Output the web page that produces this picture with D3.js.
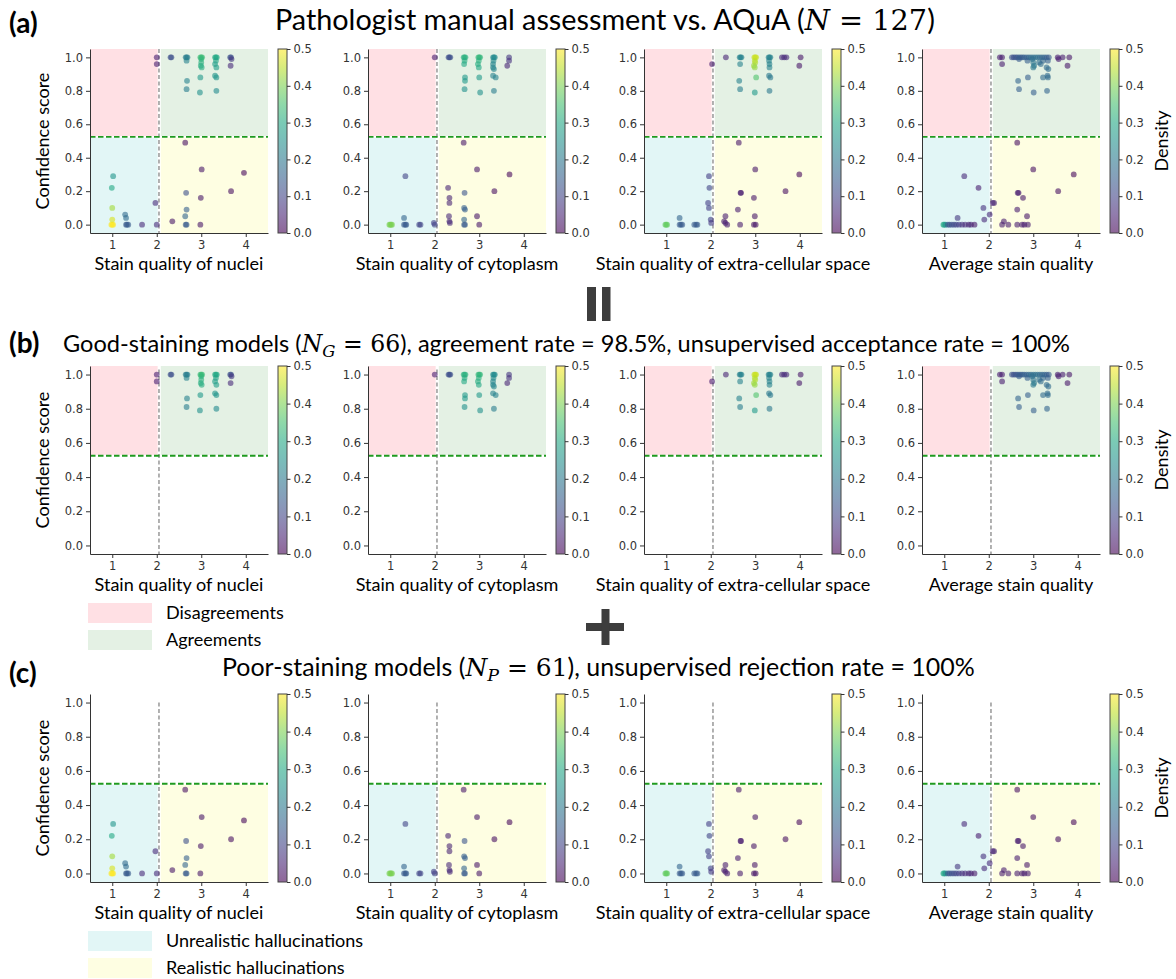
<!DOCTYPE html>
<html>
<head>
<meta charset="utf-8">
<script src="https://cdn.jsdelivr.net/npm/d3@7"></script>
<style>
  body { margin: 0; background: #fff; }
  svg text { font-family: Lato, "Open Sans", sans-serif; }
  .tick text { font-family: "DejaVu Sans", sans-serif; font-size: 11.5px; fill: #333; }
  .tick line, .domain { stroke: #333; }
</style>
</head>
<body>
<svg id="fig" width="1176" height="979"></svg>
<script>
//data
const metrics = [
  "Stain quality of nuclei",
  "Stain quality of cytoplasm",
  "Stain quality of extra-cellular space",
  "Average stain quality"
];
const xTicks = [1, 2, 3, 4],
  yTicks = [0, 0.2, 0.4, 0.6, 0.8, 1.0],
  cbTicks = [0, 0.1, 0.2, 0.3, 0.4, 0.5];
const qualityCut = 2.05,
  confCut = 0.525;

// [stain quality, confidence score, density]
const nucleiGood = [
  [2.00, 1.00, 0.04], [2.00, 0.96, 0.04], [2.31, 1.00, 0.12], [2.33, 1.00, 0.12],
  [2.65, 1.00, 0.21], [2.67, 1.00, 0.21], [2.69, 1.00, 0.21], [2.67, 0.98, 0.22], [2.68, 0.86, 0.22], [2.67, 0.81, 0.21],
  [2.98, 1.00, 0.34], [3.00, 1.00, 0.34], [3.02, 1.00, 0.34], [3.00, 0.99, 0.33], [3.00, 0.97, 0.32], [2.99, 0.95, 0.31],
  [3.01, 0.94, 0.31], [2.98, 0.88, 0.27], [2.97, 0.79, 0.25],
  [3.31, 1.00, 0.30], [3.33, 1.00, 0.30], [3.35, 1.00, 0.30], [3.33, 0.98, 0.29], [3.31, 0.96, 0.28], [3.34, 0.94, 0.28],
  [3.31, 0.89, 0.26], [3.34, 0.88, 0.26], [3.34, 0.80, 0.24],
  [3.65, 1.00, 0.12], [3.67, 1.00, 0.12], [3.68, 0.99, 0.08], [3.66, 0.95, 0.06]
];
const nucleiPoor = [
  [0.98, 0.00, 0.50], [1.00, 0.00, 0.50], [1.02, 0.00, 0.50], [1.00, 0.03, 0.47], [1.00, 0.10, 0.43],
  [0.99, 0.22, 0.30], [1.02, 0.29, 0.26],
  [1.31, 0.00, 0.14], [1.33, 0.00, 0.14], [1.36, 0.00, 0.14], [1.29, 0.06, 0.17], [1.31, 0.04, 0.17],
  [1.67, 0.00, 0.06], [2.00, 0.00, 0.06], [1.97, 0.13, 0.06], [2.35, 0.02, 0.03],
  [2.64, 0.49, 0.02], [2.66, 0.19, 0.12], [2.67, 0.09, 0.15], [2.64, 0.05, 0.16], [2.65, 0.00, 0.14], [2.67, 0.00, 0.14],
  [3.01, 0.33, 0.03], [2.99, 0.16, 0.03], [2.98, 0.00, 0.03], [3.67, 0.20, 0.02], [3.96, 0.31, 0.01]
];
const cytoGood = [
  [2.00, 1.00, 0.04], [2.31, 1.00, 0.12], [2.33, 1.00, 0.12], [2.35, 1.00, 0.12],
  [2.65, 1.00, 0.32], [2.67, 1.00, 0.32], [2.69, 1.00, 0.32], [2.67, 0.98, 0.31], [2.66, 0.96, 0.30],
  [2.68, 0.88, 0.27], [2.68, 0.86, 0.27], [2.67, 0.81, 0.25],
  [2.98, 1.00, 0.33], [3.00, 1.00, 0.33], [3.02, 1.00, 0.33], [2.99, 0.98, 0.32], [2.97, 0.96, 0.31],
  [2.99, 0.94, 0.30], [3.00, 0.88, 0.27], [3.02, 0.79, 0.25],
  [3.31, 1.00, 0.24], [3.33, 1.00, 0.24], [3.35, 1.00, 0.24], [3.32, 0.98, 0.24], [3.31, 0.96, 0.23],
  [3.31, 0.94, 0.23], [3.33, 0.93, 0.23], [3.31, 0.89, 0.22], [3.37, 0.88, 0.22], [3.33, 0.80, 0.21],
  [3.67, 1.00, 0.08], [3.67, 0.98, 0.07], [3.63, 0.95, 0.05]
];
const cytoPoor = [
  [0.98, 0.00, 0.40], [1.00, 0.00, 0.40], [1.02, 0.00, 0.40], [1.04, 0.00, 0.40],
  [1.34, 0.29, 0.10], [1.31, 0.04, 0.16], [1.31, 0.00, 0.14], [1.34, 0.00, 0.14], [1.36, 0.00, 0.14],
  [1.65, 0.00, 0.10], [1.68, 0.00, 0.10], [2.00, 0.00, 0.10], [1.98, 0.01, 0.09],
  [2.30, 0.22, 0.05], [2.33, 0.16, 0.05], [2.33, 0.13, 0.05], [2.32, 0.05, 0.06], [2.33, 0.02, 0.06], [2.34, 0.01, 0.06],
  [2.65, 0.49, 0.03], [2.67, 0.19, 0.13], [2.66, 0.10, 0.15], [2.68, 0.09, 0.15], [2.66, 0.03, 0.16],
  [2.66, 0.00, 0.14], [2.68, 0.00, 0.14],
  [2.95, 0.33, 0.03], [2.95, 0.05, 0.03], [3.00, 0.00, 0.03], [3.34, 0.20, 0.02], [3.68, 0.30, 0.01]
];
const ecsGood = [
  [2.03, 0.96, 0.04], [2.34, 1.00, 0.05],
  [2.65, 1.00, 0.22], [2.67, 1.00, 0.22], [2.69, 1.00, 0.22], [2.66, 0.96, 0.22], [2.64, 0.86, 0.22], [2.66, 0.81, 0.21],
  [2.98, 1.00, 0.46], [3.00, 1.00, 0.46], [3.02, 1.00, 0.46], [2.99, 0.98, 0.45], [3.00, 0.97, 0.44],
  [2.97, 0.95, 0.43], [2.99, 0.94, 0.42], [3.02, 0.88, 0.36], [2.99, 0.79, 0.27],
  [3.30, 1.00, 0.22], [3.32, 1.00, 0.22], [3.34, 1.00, 0.22], [3.31, 0.98, 0.22], [3.32, 0.96, 0.22],
  [3.32, 0.94, 0.22], [3.31, 0.89, 0.20], [3.34, 0.88, 0.20], [3.32, 0.80, 0.20],
  [3.60, 1.00, 0.06], [3.65, 1.00, 0.06], [3.70, 1.00, 0.06], [4.02, 1.00, 0.03], [3.99, 0.95, 0.03]
];
const ecsPoor = [
  [0.98, 0.00, 0.38], [1.00, 0.00, 0.38], [1.02, 0.00, 0.38],
  [1.30, 0.04, 0.16], [1.30, 0.00, 0.14], [1.33, 0.00, 0.14], [1.36, 0.00, 0.14],
  [1.63, 0.00, 0.14], [1.67, 0.00, 0.14], [1.70, 0.00, 0.14],
  [1.96, 0.29, 0.09], [1.97, 0.22, 0.10], [1.94, 0.13, 0.09], [1.96, 0.10, 0.09], [2.00, 0.03, 0.09], [2.01, 0.01, 0.08],
  [2.33, 0.05, 0.04], [2.30, 0.02, 0.04], [2.33, 0.01, 0.04], [2.37, 0.00, 0.04],
  [2.63, 0.49, 0.03], [2.67, 0.19, 0.04], [2.68, 0.19, 0.04], [2.61, 0.09, 0.04], [2.66, 0.00, 0.04],
  [3.00, 0.33, 0.03], [2.97, 0.16, 0.03], [2.99, 0.05, 0.03], [2.97, 0.00, 0.03], [3.01, 0.00, 0.03],
  [3.68, 0.20, 0.02], [3.99, 0.30, 0.01]
];
const avgGood = [
  [2.25, 1.00, 0.04], [2.30, 1.00, 0.04], [2.30, 0.96, 0.04],
  [2.52, 1.00, 0.12], [2.56, 1.00, 0.12], [2.60, 1.00, 0.13], [2.64, 1.00, 0.13], [2.68, 1.00, 0.14], [2.72, 1.00, 0.14],
  [2.76, 1.00, 0.14], [2.80, 1.00, 0.15], [2.85, 1.00, 0.15], [2.90, 1.00, 0.16], [2.68, 0.99, 0.14], [2.87, 0.98, 0.15],
  [2.95, 1.00, 0.17], [3.00, 1.00, 0.18], [3.05, 1.00, 0.18], [3.10, 1.00, 0.18], [3.15, 1.00, 0.17], [3.20, 1.00, 0.16],
  [3.25, 1.00, 0.16], [3.30, 1.00, 0.15], [3.35, 1.00, 0.14],
  [2.98, 0.99, 0.18], [3.00, 0.97, 0.19], [3.02, 0.95, 0.20], [3.00, 0.94, 0.20], [3.13, 0.97, 0.18], [3.17, 0.96, 0.17],
  [3.22, 0.98, 0.16], [3.33, 0.98, 0.15], [3.30, 0.94, 0.17], [3.34, 0.93, 0.17],
  [3.55, 1.00, 0.04], [3.57, 0.99, 0.04], [3.66, 1.00, 0.04], [3.81, 1.00, 0.03], [3.77, 0.95, 0.03],
  [2.66, 0.86, 0.16], [2.68, 0.81, 0.15], [2.88, 0.88, 0.15], [3.01, 0.79, 0.15], [3.22, 0.88, 0.17],
  [3.32, 0.89, 0.17], [3.33, 0.88, 0.17], [3.31, 0.80, 0.16]
];
const avgPoor = [
  [0.98, 0.00, 0.30], [1.00, 0.00, 0.30], [1.03, 0.00, 0.25], [1.08, 0.00, 0.14], [1.12, 0.00, 0.12], [1.17, 0.00, 0.12],
  [1.22, 0.00, 0.11], [1.27, 0.00, 0.10], [1.33, 0.00, 0.09], [1.40, 0.00, 0.07], [1.47, 0.00, 0.06], [1.55, 0.00, 0.05],
  [1.60, 0.00, 0.05], [1.68, 0.00, 0.03],
  [1.30, 0.04, 0.08], [1.45, 0.29, 0.06], [1.77, 0.22, 0.04], [1.88, 0.10, 0.07], [1.90, 0.03, 0.06],
  [2.02, 0.06, 0.06], [2.09, 0.13, 0.05], [2.12, 0.13, 0.05],
  [2.30, 0.00, 0.04], [2.34, 0.02, 0.04], [2.44, 0.00, 0.04],
  [2.64, 0.49, 0.02], [2.65, 0.19, 0.04], [2.67, 0.19, 0.04], [2.64, 0.09, 0.04], [2.77, 0.16, 0.03], [2.86, 0.05, 0.03],
  [2.64, 0.00, 0.04], [2.75, 0.00, 0.04], [2.80, 0.00, 0.04], [2.88, 0.00, 0.04],
  [3.00, 0.33, 0.02], [3.56, 0.20, 0.02], [3.91, 0.30, 0.01]
];
const goodSets = [nucleiGood, cytoGood, ecsGood, avgGood],
  poorSets = [nucleiPoor, cytoPoor, ecsPoor, avgPoor];

//layout
const svg = d3.select("#fig");
const lefts = [90, 368, 644, 922],
  axW = 178,
  cbGap = 188,
  cbW = 9;
const regionFill = {
  dis: "#ffe0e4",
  agr: "#e4f1e4",
  unr: "#e2f6f6",
  rea: "#fefee2"
};
const regionBox = {
  dis: { x: [0.5, 2.02], y: [0.53, 1.05] },
  agr: { x: [2.09, 4.5], y: [0.53, 1.05] },
  unr: { x: [0.5, 2.02], y: [-0.05, 0.52] },
  rea: { x: [2.09, 4.5], y: [-0.05, 0.52] }
};
const rows = [
  { top: 49, h: 184, regions: ["dis", "agr", "unr", "rea"], vTop: 1.05, xlab: 37,
    pts: i => goodSets[i].concat(poorSets[i]) },
  { top: 366, h: 188, regions: ["dis", "agr"], vTop: 1.03, xlab: 37, pts: i => goodSets[i] },
  { top: 694, h: 188, regions: ["unr", "rea"], vTop: 1.0, xlab: 37, pts: i => poorSets[i] }
];

const color = d => d3.interpolateViridis(d / 0.5);

// gradient for colorbars
const grad = svg.append("defs").append("linearGradient")
  .attr("id", "viridis").attr("x1", 0).attr("y1", 1).attr("x2", 0).attr("y2", 0);
d3.range(0, 1.0001, 0.1).forEach(t => {
  grad.append("stop").attr("offset", t).attr("stop-color", d3.interpolateViridis(t));
});

// measure a common label size so that the nuclei label is ~169px wide
const probe = svg.append("text").attr("font-size", 100).text(metrics[0]);
const labelSize = 100 * 169 / probe.node().getComputedTextLength();
probe.remove();

function fit(sel, width) {
  const w = sel.node().getComputedTextLength();
  sel.attr("font-size", parseFloat(sel.attr("font-size")) * width / w);
}

function addScatter(row, i) {
  const x = d3.scaleLinear().domain([0.5, 4.5]).range([0, axW]),
    y = d3.scaleLinear().domain([-0.05, 1.05]).range([row.h, 0]),
    g = svg.append("g").attr("transform", `translate(${lefts[i]}, ${row.top})`);

  row.regions.forEach(k => {
    const b = regionBox[k];
    g.append("rect")
      .attr("x", x(b.x[0])).attr("width", x(b.x[1]) - x(b.x[0]))
      .attr("y", y(b.y[1])).attr("height", y(b.y[0]) - y(b.y[1]))
      .attr("fill", regionFill[k]);
  });

  g.append("line")
    .attr("x1", x(qualityCut)).attr("x2", x(qualityCut))
    .attr("y1", y(row.vTop)).attr("y2", y(-0.05))
    .attr("stroke", "#888").attr("stroke-width", 1.3).attr("stroke-dasharray", "4,2.5");
  g.append("line")
    .attr("x1", 0).attr("x2", axW)
    .attr("y1", y(confCut)).attr("y2", y(confCut))
    .attr("stroke", "#1f9a1f").attr("stroke-width", 1.8).attr("stroke-dasharray", "5.5,2.5");

  g.selectAll(".pt")
    .data(row.pts(i))
    .enter()
    .append("circle")
    .attr("cx", d => x(d[0]))
    .attr("cy", d => y(d[1]))
    .attr("r", 2.9)
    .attr("fill", d => color(d[2]))
    .attr("fill-opacity", 0.6);

  g.append("g")
    .attr("transform", `translate(0, ${row.h})`)
    .call(d3.axisBottom(x).tickValues(xTicks).tickFormat(d3.format("d"))
      .tickSize(4).tickSizeOuter(0).tickPadding(4));
  g.append("g")
    .call(d3.axisLeft(y).tickValues(yTicks).tickFormat(d3.format(".1f"))
      .tickSize(4).tickSizeOuter(0).tickPadding(3));

  g.append("text")
    .attr("x", axW / 2).attr("y", row.h + row.xlab)
    .attr("text-anchor", "middle").attr("font-size", labelSize)
    .text(metrics[i]);

  //colorbar
  const cb = d3.scaleLinear().domain([0, 0.5]).range([row.h, 0]),
    cbG = g.append("g").attr("transform", `translate(${cbGap}, 0)`);
  cbG.append("rect")
    .attr("width", cbW).attr("height", row.h)
    .attr("fill", "url(#viridis)").attr("fill-opacity", 0.6)
    .attr("stroke", "#444").attr("stroke-width", 1);
  cbG.append("g")
    .attr("transform", `translate(${cbW}, 0)`)
    .call(d3.axisRight(cb).tickValues(cbTicks).tickFormat(d3.format(".1f"))
      .tickSize(3.5).tickSizeOuter(0).tickPadding(3))
    .select(".domain").remove();

  if (i === 0) {
    svg.append("text")
      .attr("transform", `translate(49, ${row.top + row.h / 2}) rotate(-90)`)
      .attr("text-anchor", "middle").attr("font-size", labelSize)
      .text("Confidence score");
  }
  if (i === 3) {
    svg.append("text")
      .attr("transform", `translate(1168, ${row.top + row.h / 2}) rotate(-90)`)
      .attr("text-anchor", "middle").attr("font-size", labelSize)
      .text("Density");
  }
}

rows.forEach(row => metrics.forEach((_, i) => addScatter(row, i)));

//panel tags
[["(a)", 33], ["(b)", 353], ["(c)", 683]].forEach(([t, yb]) => {
  svg.append("text").attr("x", 9).attr("y", yb)
    .attr("font-weight", 700).attr("font-size", 28).text(t);
});

//titles
function addTitle(x0, yb, width, before, sym, sub, after) {
  const t = svg.append("text").attr("x", x0).attr("y", yb).attr("font-size", 24);
  t.append("tspan").text(before);
  t.append("tspan").attr("font-family", "DejaVu Serif").attr("font-style", "italic").text(sym);
  if (sub) {
    t.append("tspan").attr("font-family", "DejaVu Serif").attr("font-style", "italic")
      .attr("font-size", "0.7em").attr("dy", "0.3em").text(sub);
    t.append("tspan").attr("font-family", "DejaVu Serif").attr("dy", "-0.21em").text(after[0]);
  } else {
    t.append("tspan").attr("font-family", "DejaVu Serif").text(after[0]);
  }
  t.append("tspan").text(after[1]);
  fit(t, width);
}
addTitle(275, 30, 660, "Pathologist manual assessment vs. AQuA (", "N", null, [" = 127", ")"]);
addTitle(63, 352, 1007, "Good-staining models (", "N", "G",
  [" = 66", "), agreement rate = 98.5%, unsupervised acceptance rate = 100%"]);
addTitle(222, 676, 753, "Poor-staining models (", "N", "P", [" = 61", "), unsupervised rejection rate = 100%"]);

// "=" and "+" joining signs
const signColor = "#3d3d3d";
svg.append("rect").attr("x", 587).attr("y", 287).attr("width", 9).attr("height", 34).attr("fill", signColor);
svg.append("rect").attr("x", 602).attr("y", 287).attr("width", 8.5).attr("height", 34).attr("fill", signColor);
svg.append("rect").attr("x", 586).attr("y", 623).attr("width", 38).attr("height", 8).attr("fill", signColor);
svg.append("rect").attr("x", 601.5).attr("y", 609).attr("width", 8).attr("height", 36).attr("fill", signColor);

//legends
const legends = [
  { key: "dis", label: "Disagreements", y: 603 },
  { key: "agr", label: "Agreements", y: 630 },
  { key: "unr", label: "Unrealistic hallucinations", y: 931 },
  { key: "rea", label: "Realistic hallucinations", y: 958 }
];
legends.forEach(l => {
  svg.append("rect").attr("x", 88).attr("y", l.y).attr("width", 64).attr("height", 20)
    .attr("fill", regionFill[l.key]);
  svg.append("text").attr("x", 166).attr("y", l.y + 10).attr("dy", "0.35em")
    .attr("font-size", labelSize).text(l.label);
});
</script>
</body>
</html>
